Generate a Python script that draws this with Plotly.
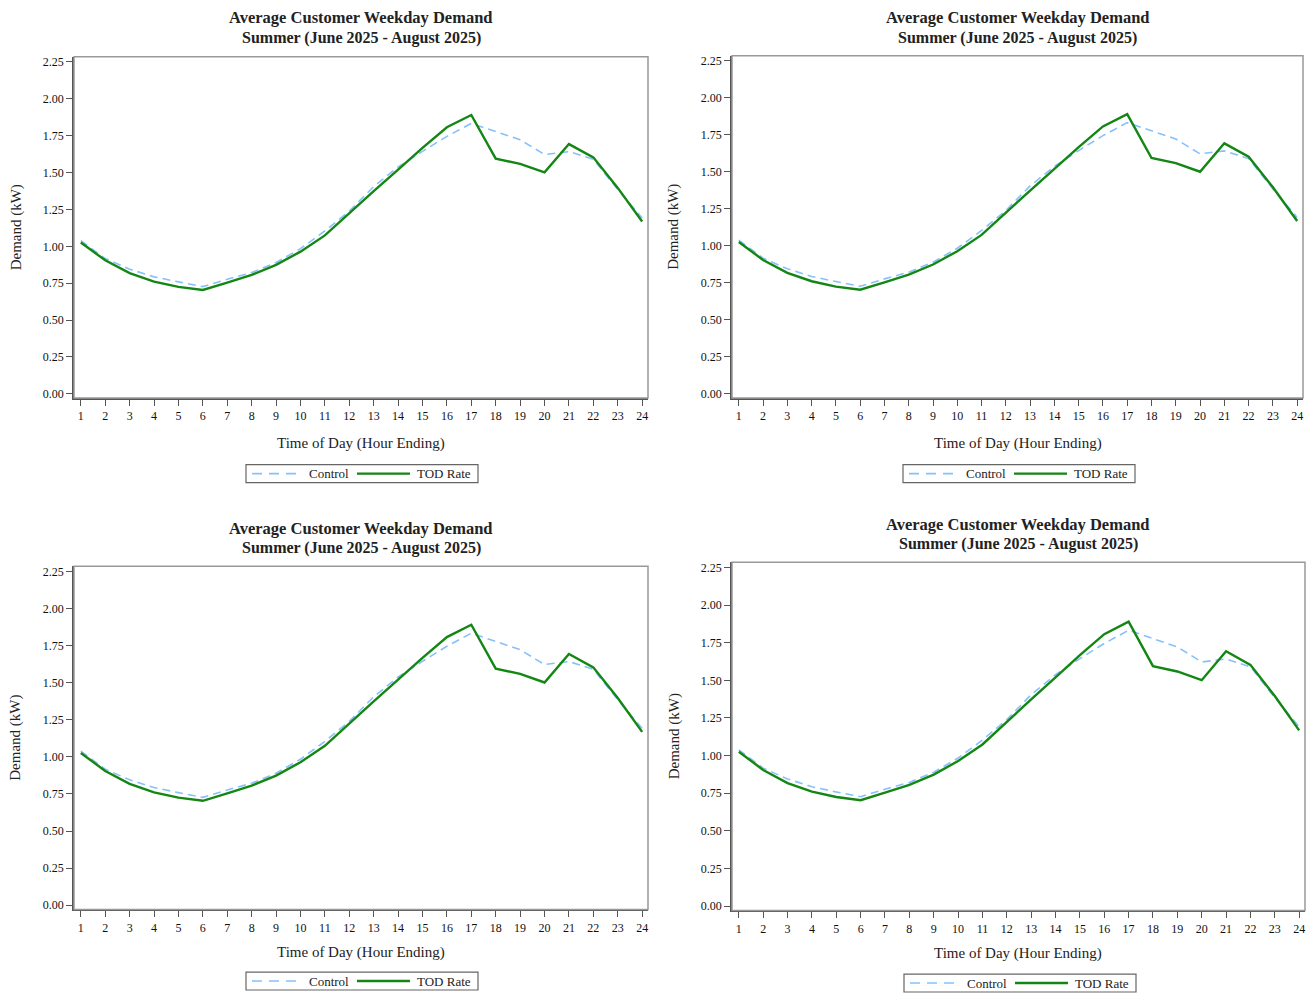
import plotly.graph_objects as go

hours = list(range(1, 25))
control = [1.038, 0.917, 0.845, 0.793, 0.759, 0.727, 0.777, 0.822, 0.890, 0.984, 1.104, 1.239,
           1.405, 1.538, 1.644, 1.745, 1.833, 1.780, 1.722, 1.622, 1.642, 1.590, 1.385, 1.192]
tod = [1.026, 0.905, 0.818, 0.761, 0.725, 0.704, 0.754, 0.806, 0.874, 0.964, 1.074, 1.225,
       1.374, 1.520, 1.667, 1.807, 1.890, 1.594, 1.559, 1.501, 1.693, 1.603, 1.396, 1.168]
y_ticks = [0.0, 0.25, 0.5, 0.75, 1.0, 1.25, 1.5, 1.75, 2.0, 2.25]
series_names = ["Control", "TOD Rate"]
title_line1 = "Average Customer Weekday Demand"
title_line2 = "Summer (June 2025 - August 2025)"
x_title = "Time of Day (Hour Ending)"
y_title = "Demand (kW)"

W, H = 1315, 993
SERIF = "Liberation Serif, Times New Roman, serif"
CTRL_COLOR = "#86c1fb"
TOD_COLOR = "#138613"
CTRL_DASH = "8px,5px"

panels = [
    dict(l=74, r=648, t=55, b=398, ty1=16, ty2=36, xty=444, lt=465, lb=483, lx=246),
    dict(l=732, r=1303, t=54, b=398, ty1=16, ty2=36, xty=444, lt=465, lb=483, lx=903),
    dict(l=74, r=648, t=567, b=912, ty1=529, ty2=549, xty=955, lt=975, lb=993, lx=246),
    dict(l=732, r=1305, t=563, b=913, ty1=525, ty2=545, xty=956, lt=977, lb=995, lx=904),
]

fig = go.Figure()
layout = dict(width=W, height=H, margin=dict(l=0, r=0, t=0, b=0),
              paper_bgcolor="white", plot_bgcolor="white", showlegend=False)
annotations = []
shapes = []


def px(x):
    return x / W


def py(y):
    return 1 - y / H


for i, p in enumerate(panels):
    n = "" if i == 0 else str(i + 1)
    xa, ya = "x" + n, "y" + n
    fig.add_trace(go.Scatter(x=hours, y=control, mode="lines", name=series_names[0],
                             line=dict(color=CTRL_COLOR, width=1.6, dash=CTRL_DASH),
                             xaxis=xa, yaxis=ya))
    fig.add_trace(go.Scatter(x=hours, y=tod, mode="lines", name=series_names[1],
                             line=dict(color=TOD_COLOR, width=2.4),
                             xaxis=xa, yaxis=ya))
    layout["xaxis" + n] = dict(domain=[px(p["l"]), px(p["r"])], anchor=ya, range=[0.72, 24.24],
                               tickmode="array", tickvals=hours, ticktext=[str(h) for h in hours],
                               ticks="outside", ticklen=6, tickcolor="#555", tickwidth=1,
                               showline=True, linecolor="#555", linewidth=1.5,
                               showgrid=False, zeroline=False,
                               tickfont=dict(family=SERIF, size=12, color="#111"))
    layout["yaxis" + n] = dict(domain=[py(p["b"]), py(p["t"])], anchor=xa, range=[-0.028, 2.285],
                               tickmode="array", tickvals=y_ticks,
                               ticktext=[f"{v:.2f}" for v in y_ticks],
                               ticks="outside", ticklen=6, tickcolor="#555", tickwidth=1,
                               showline=True, linecolor="#555", linewidth=1.5,
                               showgrid=False, zeroline=False,
                               tickfont=dict(family=SERIF, size=12, color="#111"))
    shapes.append(dict(type="rect", xref=xa + " domain", yref=ya + " domain",
                       x0=0, x1=1, y0=0, y1=1, line=dict(color="#999", width=1.5), layer="above"))
    cx = px((p["l"] + p["r"]) / 2)
    annotations.append(dict(text="<b>" + title_line1 + "</b>", x=cx, y=py(p["ty1"]),
                            xref="paper", yref="paper", showarrow=False, xanchor="center",
                            yanchor="middle", font=dict(family=SERIF, size=16.5, color="#222")))
    annotations.append(dict(text="<b>" + title_line2 + "</b>", x=cx, y=py(p["ty2"]),
                            xref="paper", yref="paper", showarrow=False, xanchor="center",
                            yanchor="middle", font=dict(family=SERIF, size=16, color="#222")))
    annotations.append(dict(text=x_title, x=cx, y=py(p["xty"]),
                            xref="paper", yref="paper", showarrow=False, xanchor="center",
                            yanchor="middle", font=dict(family=SERIF, size=15, color="#222")))
    annotations.append(dict(text=y_title, x=px(p["l"] - 58), y=py((p["t"] + p["b"]) / 2),
                            xref="paper", yref="paper", showarrow=False, xanchor="center",
                            yanchor="middle", textangle=-90,
                            font=dict(family=SERIF, size=15, color="#222")))
    # legend box (manual, to match the compact framed legend)
    lx, lt, lb = p["lx"], p["lt"], p["lb"]
    ly = (lt + lb) / 2
    shapes.append(dict(type="rect", xref="paper", yref="paper", x0=px(lx), x1=px(lx + 232),
                       y0=py(lb), y1=py(lt), line=dict(color="#666", width=1.2),
                       fillcolor="white"))
    shapes.append(dict(type="line", xref="paper", yref="paper", x0=px(lx + 6), x1=px(lx + 56),
                       y0=py(ly), y1=py(ly), line=dict(color=CTRL_COLOR, width=1.6, dash="10px,7px")))
    annotations.append(dict(text=series_names[0], x=px(lx + 61), y=py(ly), xref="paper", yref="paper",
                            showarrow=False, xanchor="left", yanchor="middle",
                            font=dict(family=SERIF, size=13, color="#222")))
    shapes.append(dict(type="line", xref="paper", yref="paper", x0=px(lx + 111), x1=px(lx + 164),
                       y0=py(ly), y1=py(ly), line=dict(color=TOD_COLOR, width=2.4)))
    annotations.append(dict(text=series_names[1], x=px(lx + 169), y=py(ly), xref="paper", yref="paper",
                            showarrow=False, xanchor="left", yanchor="middle",
                            font=dict(family=SERIF, size=13, color="#222")))

layout["annotations"] = annotations
layout["shapes"] = shapes
fig.update_layout(**layout)
fig.write_html("out.html", config={"displayModeBar": False},
               post_script="document.body.style.margin='0';document.body.style.overflow='hidden';")
